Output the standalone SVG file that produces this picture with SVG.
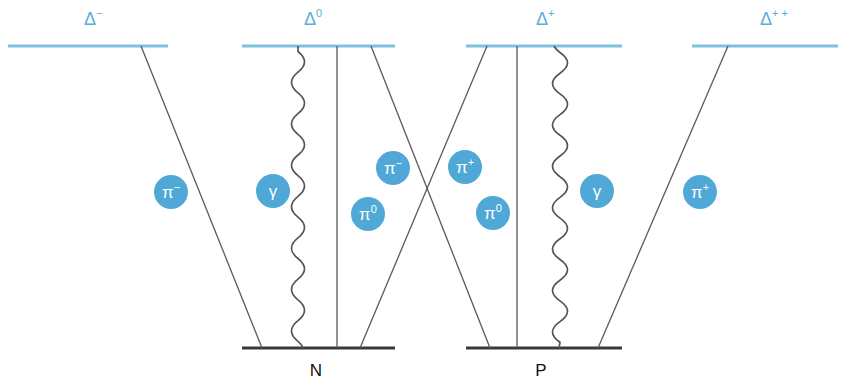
<svg xmlns="http://www.w3.org/2000/svg" width="842" height="380" viewBox="0 0 842 380">
<style>
.lvl{stroke:#7cc0e2;stroke-width:3;fill:none}
.base{stroke:#3a3a3a;stroke-width:3;fill:none}
.ln{stroke:#5a5a5a;stroke-width:1.3;fill:none}
.wv{stroke:#555;stroke-width:1.7;fill:none}
.dl{font-family:"Liberation Sans",Arial,sans-serif;font-size:18px;fill:#5aaed6}
.nl{font-family:"Liberation Sans",Arial,sans-serif;font-size:17px;fill:#111}
.bub circle{fill:#4fa8d6}
.bub text{font-family:"Liberation Sans",Arial,sans-serif;font-size:17px;fill:#fff;text-anchor:middle}
</style>
<rect width="842" height="380" fill="#fff"/>
<g id="delta-minus"><line class="lvl" x1="8" y1="46" x2="168" y2="46"/><text class="dl" x="84" y="25">Δ<tspan dy="-8" font-size="11">−</tspan></text></g>
<g id="delta-zero"><line class="lvl" x1="242" y1="46" x2="395" y2="46"/><text class="dl" x="304" y="25">Δ<tspan dy="-8" font-size="11">0</tspan></text></g>
<g id="delta-plus"><line class="lvl" x1="466" y1="46" x2="622" y2="46"/><text class="dl" x="536" y="25">Δ<tspan dy="-8" font-size="11">+</tspan></text></g>
<g id="delta-plusplus"><line class="lvl" x1="692" y1="46" x2="838" y2="46"/><text class="dl" x="760" y="25">Δ<tspan dy="-8" font-size="11">+ +</tspan></text></g>
<g id="N"><line class="base" x1="242" y1="348" x2="395" y2="348"/><text class="nl" x="316" y="376" text-anchor="middle">N</text></g>
<g id="P"><line class="base" x1="466" y1="348" x2="622" y2="348"/><text class="nl" x="541" y="376" text-anchor="middle">P</text></g>
<g id="connectors">
<line class="ln" x1="141" y1="46" x2="262" y2="348"/>
<line class="ln" x1="337" y1="46" x2="337" y2="348"/>
<line class="ln" x1="371" y1="46" x2="490" y2="348"/>
<line class="ln" x1="487" y1="46" x2="360" y2="348"/>
<line class="ln" x1="517" y1="46" x2="517" y2="348"/>
<line class="ln" x1="728" y1="46" x2="598" y2="348"/>
<path class="wv" d="M298,46 L298,51.5 Q311,61.85 298,72.2 T298,92.9 T298,113.6 T298,134.3 T298,155 T298,175.7 T298,196.4 T298,217.1 T298,237.8 T298,258.5 T298,279.2 T298,299.9 T298,320.6 T298,341.3 Q302,344.75 303.3,348"/>
<path class="wv" d="M554,46 Q555.6,49.25 560,52.5 Q575,62.85 560,73.2 T560,93.9 T560,114.6 T560,135.3 T560,156 T560,176.7 T560,197.4 T560,218.1 T560,238.8 T560,259.5 T560,280.2 T560,300.9 T560,321.6 T560,342.3 L559,348"/>
</g>
<g id="pi-minus-1" class="bub"><circle cx="171" cy="192" r="17"/><text x="171" y="198">π<tspan dy="-7" font-size="11">−</tspan></text></g>
<g id="gamma-1" class="bub"><circle cx="273" cy="191" r="17"/><text x="273" y="197">γ</text></g>
<g id="pi-minus-2" class="bub"><circle cx="393" cy="168" r="17"/><text x="393" y="174">π<tspan dy="-7" font-size="11">−</tspan></text></g>
<g id="pi-zero-1" class="bub"><circle cx="368" cy="214" r="17"/><text x="368" y="220">π<tspan dy="-7" font-size="11">0</tspan></text></g>
<g id="pi-plus-1" class="bub"><circle cx="465" cy="167" r="17"/><text x="465" y="173">π<tspan dy="-7" font-size="11">+</tspan></text></g>
<g id="pi-zero-2" class="bub"><circle cx="493" cy="213" r="17"/><text x="493" y="219">π<tspan dy="-7" font-size="11">0</tspan></text></g>
<g id="gamma-2" class="bub"><circle cx="597" cy="191" r="17"/><text x="597" y="197">γ</text></g>
<g id="pi-plus-2" class="bub"><circle cx="700" cy="192" r="17"/><text x="700" y="198">π<tspan dy="-7" font-size="11">+</tspan></text></g>
</svg>
